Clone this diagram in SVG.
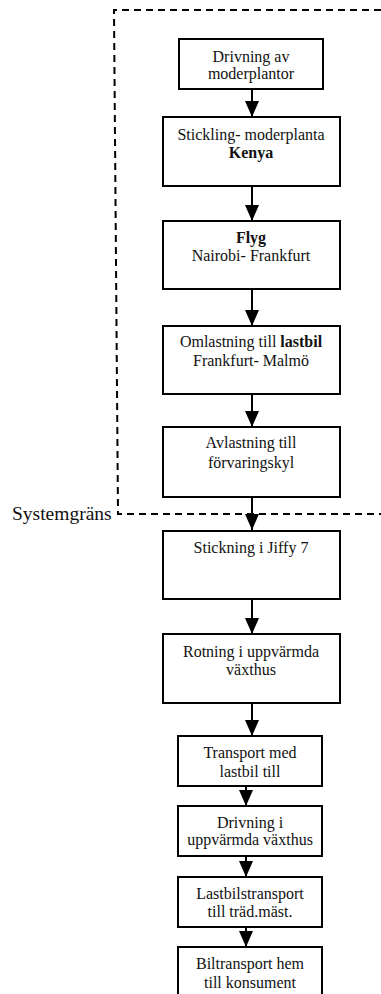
<svg xmlns="http://www.w3.org/2000/svg" width="381" height="994" viewBox="0 0 381 994">
<style>
.box{fill:#fff;stroke:#000;stroke-width:2}
.t{font-size:16px;fill:#111;text-anchor:middle}
.b{font-weight:bold}
.c{stroke:#000;stroke-width:2;fill:none}
.bd{stroke:#000;stroke-width:2;fill:none;stroke-dasharray:7 5}
</style>
<defs>
<marker id="ah" markerWidth="17" markerHeight="15" refX="16" refY="7" orient="auto" markerUnits="userSpaceOnUse">
<path d="M0,0 L16,7 L0,14 Z" fill="#000"/>
</marker>
</defs>
<g font-family="'Liberation Serif', 'Times New Roman', serif">
<g id="boundary">
<path class="bd" d="M381,10 L114,10 L118,514 L381,514"/>
<text x="12" y="520" font-size="19.5" fill="#111">Systemgräns</text>
</g>
<g id="connectors">
<line class="c" x1="252" y1="89" x2="252" y2="117" marker-end="url(#ah)"/>
<line class="c" x1="252" y1="186" x2="252" y2="221" marker-end="url(#ah)"/>
<line class="c" x1="252" y1="289" x2="252" y2="326" marker-end="url(#ah)"/>
<line class="c" x1="252" y1="394" x2="252" y2="427" marker-end="url(#ah)"/>
<line class="c" x1="252" y1="497" x2="252" y2="530" marker-end="url(#ah)"/>
<line class="c" x1="252" y1="599" x2="252" y2="634" marker-end="url(#ah)"/>
<line class="c" x1="252" y1="703" x2="252" y2="736" marker-end="url(#ah)"/>
<line class="c" x1="246" y1="780" x2="246" y2="806" marker-end="url(#ah)"/>
<line class="c" x1="246" y1="850" x2="246" y2="877" marker-end="url(#ah)"/>
<line class="c" x1="246" y1="921" x2="246" y2="947" marker-end="url(#ah)"/>
</g>
<g id="n1">
<rect class="box" x="179" y="39" width="144" height="50"/>
<text class="t" x="251" y="62">Drivning av</text>
<text class="t" x="251" y="79">moderplantor</text>
</g>
<g id="n2">
<rect class="box" x="163" y="117" width="177" height="69"/>
<text class="t" x="251" y="140">Stickling- moderplanta</text>
<text class="t b" x="251" y="158">Kenya</text>
</g>
<g id="n3">
<rect class="box" x="163" y="221" width="177" height="68"/>
<text class="t b" x="251" y="243">Flyg</text>
<text class="t" x="251" y="261">Nairobi- Frankfurt</text>
</g>
<g id="n4">
<rect class="box" x="163" y="326" width="177" height="68"/>
<text class="t" x="251" y="347">Omlastning till <tspan class="b">lastbil</tspan></text>
<text class="t" x="251" y="366">Frankfurt- Malmö</text>
</g>
<g id="n5">
<rect class="box" x="163" y="427" width="177" height="70"/>
<text class="t" x="251" y="448">Avlastning till</text>
<text class="t" x="251" y="468">förvaringskyl</text>
</g>
<g id="n6">
<rect class="box" x="163" y="531" width="177" height="68"/>
<text class="t" x="251" y="553">Stickning i Jiffy 7</text>
</g>
<g id="n7">
<rect class="box" x="163" y="634" width="177" height="69"/>
<text class="t" x="251" y="657">Rotning i uppvärmda</text>
<text class="t" x="251" y="675">växthus</text>
</g>
<g id="n8">
<rect class="box" x="178" y="736" width="144" height="50"/>
<text class="t" x="250" y="758">Transport med</text>
<text class="t" x="250" y="777">lastbil till</text>
</g>
<g id="n9">
<rect class="box" x="178" y="806" width="144" height="50"/>
<text class="t" x="250" y="828">Drivning i</text>
<text class="t" x="250" y="845">uppvärmda växthus</text>
</g>
<g id="n10">
<rect class="box" x="178" y="877" width="144" height="50"/>
<text class="t" x="250" y="899">Lastbilstransport</text>
<text class="t" x="250" y="917">till träd.mäst.</text>
</g>
<g id="n11">
<rect class="box" x="178" y="947" width="144" height="60"/>
<text class="t" x="250" y="969">Biltransport hem</text>
<text class="t" x="250" y="988">till konsument</text>
</g>
</g>
</svg>
